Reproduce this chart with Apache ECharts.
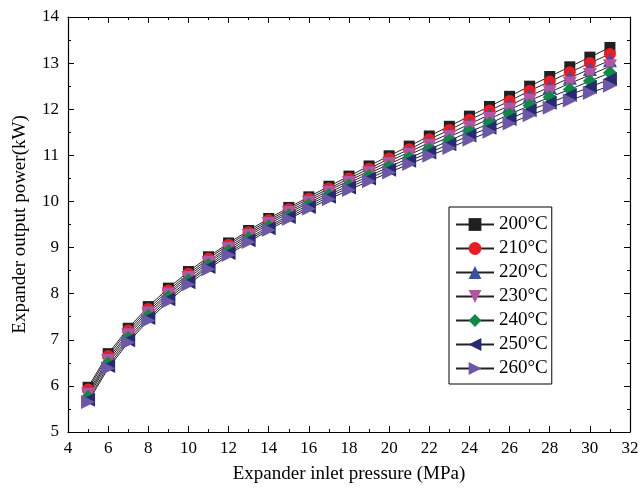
<!DOCTYPE html>
<html><head><meta charset="utf-8">
<script src="https://cdn.jsdelivr.net/npm/echarts@6/dist/echarts.min.js"></script>
<style>html,body{margin:0;padding:0;background:#fff}#c{width:642px;height:490px}</style>
</head><body><div id="c"></div>
<script>
const pressures = [5,6,7,8,9,10,11,12,13,14,15,16,17,18,19,20,21,22,23,24,25,26,27,28,29,30,31];
const seriesNames = ['200°C','210°C','220°C','230°C','240°C','250°C','260°C'];
const t200 = [5.97,6.70,7.25,7.72,8.12,8.48,8.80,9.10,9.37,9.63,9.87,10.10,10.33,10.55,10.77,10.99,11.20,11.42,11.63,11.85,12.06,12.28,12.50,12.71,12.92,13.13,13.34];
const t210 = [5.92,6.65,7.20,7.67,8.07,8.43,8.76,9.06,9.33,9.59,9.83,10.06,10.28,10.50,10.71,10.93,11.13,11.35,11.55,11.77,11.97,12.18,12.40,12.60,12.80,13.00,13.20];
const t220 = [5.86,6.59,7.15,7.62,8.02,8.39,8.71,9.01,9.29,9.55,9.79,10.01,10.24,10.45,10.66,10.87,11.07,11.28,11.47,11.68,11.88,12.08,12.29,12.48,12.68,12.87,13.06];
const t230 = [5.81,6.54,7.10,7.57,7.98,8.34,8.67,8.97,9.25,9.51,9.75,9.97,10.19,10.40,10.61,10.81,11.01,11.21,11.40,11.60,11.79,11.99,12.19,12.37,12.56,12.74,12.93];
const t240 = [5.76,6.49,7.04,7.52,7.93,8.29,8.62,8.93,9.20,9.46,9.70,9.93,10.14,10.35,10.55,10.75,10.94,11.13,11.32,11.51,11.69,11.89,12.08,12.26,12.43,12.61,12.79];
const t250 = [5.70,6.43,6.99,7.47,7.88,8.25,8.58,8.88,9.16,9.42,9.66,9.88,10.10,10.30,10.50,10.69,10.88,11.06,11.24,11.43,11.60,11.79,11.98,12.14,12.31,12.48,12.65];
const t260 = [5.65,6.38,6.94,7.42,7.83,8.20,8.53,8.84,9.12,9.38,9.62,9.84,10.05,10.25,10.44,10.63,10.81,10.99,11.16,11.34,11.51,11.69,11.87,12.03,12.19,12.35,12.51];
const allValues = [t200,t210,t220,t230,t240,t250,t260];

const markerStyles = [
  {symbol:'rect', color:'#231f20', rotate:0, size:11},
  {symbol:'circle', color:'#ed1c24', rotate:0, size:12},
  {symbol:'triangle', color:'#3953a4', rotate:0, size:14},
  {symbol:'triangle', color:'#b455a3', rotate:180, size:14},
  {symbol:'diamond', color:'#0f8a45', rotate:0, size:14},
  {symbol:'triangle', color:'#262a72', rotate:90, size:14},
  {symbol:'triangle', color:'#6d58a8', rotate:-90, size:14}
];
const font = 'Liberation Serif';
const chart = echarts.init(document.getElementById('c'));
const series = allValues.map((vals,i)=>({
  name: seriesNames[i],
  type:'line',
  data: pressures.map((p,j)=>[p, vals[j]]),
  symbol: markerStyles[i].symbol,
  symbolSize: markerStyles[i].size,
  symbolRotate: markerStyles[i].rotate,
  showAllSymbol:true,
  itemStyle:{color: markerStyles[i].color},
  lineStyle:{color:'#222', width:1}
}));
const axisLineStyle = {lineStyle:{color:'#000', width:1.2}};
chart.setOption({
  animation:false,
  backgroundColor:'#fff',
  grid:{left:68, right:12, top:17, bottom:58, containLabel:false},
  legend:{
    orient:'vertical', left:449, top:207,
    data: seriesNames,
    itemWidth:38, itemHeight:16, itemGap:5,
    borderColor:'#000', borderWidth:1, padding:[8,4,6,6],
    textStyle:{fontFamily:font, fontSize:19, color:'#000'},
    backgroundColor:'#fff'
  },
  xAxis:[{
    type:'value', min:4, max:32, interval:2,
    name:'Expander inlet pressure (MPa)', nameLocation:'middle', nameGap:33,
    nameTextStyle:{fontFamily:font, fontSize:19, color:'#000'},
    axisLine:axisLineStyle,
    axisTick:{inside:true, length:6, lineStyle:{color:'#000'}},
    minorTick:{show:true, splitNumber:2, length:3, lineStyle:{color:'#000'}},
    axisLabel:{fontFamily:font, fontSize:17, color:'#000', margin:8},
    splitLine:{show:false}
  },{
    type:'value', min:4, max:32, interval:2, position:'top',
    axisLine:axisLineStyle,
    axisTick:{inside:true, length:6, lineStyle:{color:'#000'}},
    minorTick:{show:true, splitNumber:2, length:3, lineStyle:{color:'#000'}},
    axisLabel:{show:false}, splitLine:{show:false}
  }],
  yAxis:[{
    type:'value', min:5, max:14, interval:1,
    name:'Expander output power(kW)', nameLocation:'middle', nameGap:38,
    nameTextStyle:{fontFamily:font, fontSize:19, color:'#000'},
    axisLine:{show:true, lineStyle:{color:'#000', width:1.2}},
    axisTick:{show:true, inside:true, length:6, lineStyle:{color:'#000'}},
    minorTick:{show:true, splitNumber:2, length:3, lineStyle:{color:'#000'}},
    axisLabel:{fontFamily:font, fontSize:17, color:'#000', margin:9},
    splitLine:{show:false}
  },{
    type:'value', min:5, max:14, interval:1, position:'right',
    axisLine:{show:true, lineStyle:{color:'#000', width:1.2}},
    axisTick:{show:true, inside:true, length:6, lineStyle:{color:'#000'}},
    minorTick:{show:true, splitNumber:2, length:3, lineStyle:{color:'#000'}},
    axisLabel:{show:false}, splitLine:{show:false}
  }],
  series: series
});
</script></body></html>
